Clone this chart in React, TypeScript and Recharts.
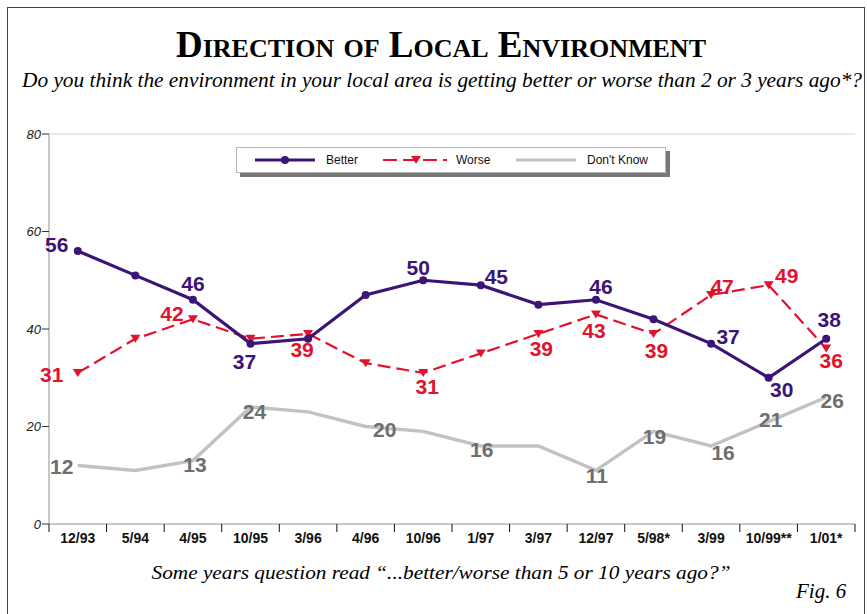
import React from "react";
import { LineChart, Line, XAxis, YAxis, CartesianGrid, Legend } from "recharts";

const periods = [
  "12/93", "5/94", "4/95", "10/95", "3/96", "4/96", "10/96",
  "1/97", "3/97", "12/97", "5/98*", "3/99", "10/99**", "1/01*",
];
const better = [56, 51, 46, 37, 38, 47, 50, 49, 45, 46, 42, 37, 30, 38];
const worse = [31, 38, 42, 38, 39, 33, 31, 35, 39, 43, 39, 47, 49, 36];
const dontKnow = [12, 11, 13, 24, 23, 20, 19, 16, 16, 11, 19, 16, 21, 26];
const yTicks = [0, 20, 40, 60, 80];

const W = 867;
const H = 614;
const PLOT_LEFT = 49;
const PLOT_RIGHT = 12;
const BAND = (W - PLOT_LEFT - PLOT_RIGHT) / periods.length;

const PURPLE = "#3b1476";
const RED = "#e2122e";
const GRAY_LINE = "#c2c2c2";
const GRAY_TEXT = "#6e6e6e";

const sans = "'Liberation Sans', Arial, sans-serif";
const serif = "'Liberation Serif', 'Times New Roman', serif";

// value label offsets (dx, dy) from the point; points without an entry get no label
const betterLabelAt: Record<number, [number, number]> = {
  0: [-21, -7], 2: [0, -16], 3: [-6, 18], 6: [-5, -13], 8: [-42, -28],
  9: [5, -13], 11: [17, -7], 12: [13, 12], 13: [3, -19],
};
const worseLabelAt: Record<number, [number, number]> = {
  0: [-26, 2], 2: [-21, -6], 4: [-6, 16], 6: [4, 14], 8: [3, 15],
  9: [-2, 16], 10: [3, 17], 11: [11, -8], 12: [18, -10], 13: [5, 12],
};
const dkLabelAt: Record<number, [number, number]> = {
  0: [-16, 1], 2: [2, 4], 3: [4, 4], 5: [19, 3], 7: [1, 3], 9: [1, 5],
  10: [1, 5], 11: [12, 6], 12: [2, -2], 13: [6, 3],
};

const data = periods.map((period, i) => ({
  period,
  better: better[i],
  worse: worse[i],
  dontKnow: dontKnow[i],
}));

const valueLabel = (
  cx: number, cy: number, value: number,
  pos: [number, number] | undefined, color: string,
) =>
  pos ? (
    <text
      x={cx + pos[0]}
      y={cy + pos[1]}
      textAnchor="middle"
      dominantBaseline="central"
      fontFamily={sans}
      fontWeight="bold"
      fontSize={21}
      fill={color}
    >
      {value}
    </text>
  ) : null;

const BetterDot = (p: any) => (
  <g key={`b-${p.index}`}>
    <circle cx={p.cx} cy={p.cy} r={4} fill={PURPLE} />
    {valueLabel(p.cx, p.cy, better[p.index], betterLabelAt[p.index], PURPLE)}
  </g>
);

const WorseDot = (p: any) => (
  <g key={`w-${p.index}`}>
    <path
      d={`M${p.cx - 5},${p.cy - 4} L${p.cx + 5},${p.cy - 4} L${p.cx},${p.cy + 4} Z`}
      fill={RED}
    />
    {valueLabel(p.cx, p.cy, worse[p.index], worseLabelAt[p.index], RED)}
  </g>
);

const DkDot = (p: any) => (
  <g key={`d-${p.index}`}>
    {valueLabel(p.cx, p.cy, dontKnow[p.index], dkLabelAt[p.index], GRAY_TEXT)}
  </g>
);

// period labels sit between tick marks drawn at the band edges
const PeriodTick = (p: any) => {
  const { x, y, payload, index } = p;
  const half = BAND / 2;
  return (
    <g>
      <line x1={x - half} x2={x - half} y1={y} y2={y + 8} stroke="#111" />
      {index === periods.length - 1 && (
        <line x1={x + half} x2={x + half} y1={y} y2={y + 8} stroke="#111" />
      )}
      <text
        x={x}
        y={y + 19}
        textAnchor="middle"
        fontFamily={sans}
        fontWeight="bold"
        fontSize={14}
        fill="#111"
      >
        {payload.value}
      </text>
    </g>
  );
};

const legendItems = [
  { name: "Better", kind: "better", left: 16 },
  { name: "Worse", kind: "worse", left: 146 },
  { name: "Don't Know", kind: "dk", left: 277 },
];

const Swatch = ({ kind }: { kind: string }) => (
  <svg width={64} height={10} style={{ display: "block" }}>
    {kind === "better" && (
      <>
        <line x1={2} x2={62} y1={5} y2={5} stroke={PURPLE} strokeWidth={3} />
        <circle cx={32} cy={5} r={4} fill={PURPLE} />
      </>
    )}
    {kind === "worse" && (
      <>
        <line x1={0} x2={64} y1={5} y2={5} stroke={RED} strokeWidth={2} strokeDasharray="14 6" />
        <path d="M28,1 L38,1 L33,9 Z" fill={RED} />
      </>
    )}
    {kind === "dk" && <line x1={2} x2={62} y1={5} y2={5} stroke={GRAY_LINE} strokeWidth={3} />}
  </svg>
);

const LegendBox = () => (
  <div
    style={{
      position: "relative",
      width: 430,
      height: 26,
      boxSizing: "border-box",
      border: "1px solid #b5b5b5",
      background: "#fff",
      boxShadow: "4px 4px 0 #777",
      fontFamily: sans,
      fontSize: 12,
      color: "#111",
    }}
  >
    {legendItems.map((it) => (
      <div
        key={it.name}
        style={{
          position: "absolute",
          left: it.left,
          top: 0,
          height: 24,
          display: "flex",
          alignItems: "center",
        }}
      >
        <Swatch kind={it.kind} />
        <span style={{ marginLeft: 9 }}>{it.name}</span>
      </div>
    ))}
  </div>
);

export default function App() {
  return (
    <div style={{ position: "absolute", left: 0, top: 0, width: W, height: H, background: "#fff" }}>
      <svg width={W} height={H} style={{ position: "absolute", left: 0, top: 0 }}>
        <rect x={7.5} y={7.5} width={857} height={640} fill="none" stroke="#444" />
        <text
          x={441}
          y={57}
          textAnchor="middle"
          fontFamily={serif}
          fontWeight="bold"
          fontSize={37}
          style={{ fontVariant: "small-caps" }}
          textLength={530}
          lengthAdjust="spacingAndGlyphs"
          fill="#000"
        >
          Direction of Local Environment
        </text>
        <text
          x={442}
          y={87}
          textAnchor="middle"
          fontFamily={serif}
          fontStyle="italic"
          fontSize={20}
          textLength={840}
          lengthAdjust="spacingAndGlyphs"
          fill="#000"
        >
          Do you think the environment in your local area is getting better or worse than 2 or 3 years ago*?
        </text>
        <text
          x={441}
          y={579}
          textAnchor="middle"
          fontFamily={serif}
          fontStyle="italic"
          fontSize={19}
          textLength={579}
          lengthAdjust="spacingAndGlyphs"
          fill="#000"
        >
          Some years question read “...better/worse than 5 or 10 years ago?”
        </text>
        <text x={796} y={598} fontFamily={serif} fontStyle="italic" fontSize={21} fill="#000">
          Fig. 6
        </text>
      </svg>
      <div style={{ position: "absolute", left: 0, top: 0 }}>
        <LineChart
          width={W}
          height={H}
          data={data}
          margin={{ top: 134, right: PLOT_RIGHT, bottom: 60, left: 8 }}
        >
          <CartesianGrid vertical={false} stroke="#e2e2e2" strokeWidth={1.5} />
          <XAxis
            dataKey="period"
            height={30}
            padding={{ left: BAND / 2, right: BAND / 2 }}
            axisLine={{ stroke: "#c8c8c8", strokeWidth: 2 }}
            tickLine={false}
            tickSize={0}
            tickMargin={0}
            interval={0}
            tick={<PeriodTick />}
          />
          <YAxis
            yAxisId="left"
            width={41}
            domain={[0, 80]}
            ticks={yTicks}
            axisLine={{ stroke: "#c8c8c8", strokeWidth: 2 }}
            tickLine={{ stroke: "#333" }}
            tickSize={7}
            tickMargin={1}
            tick={{ fontFamily: sans, fontStyle: "italic", fontSize: 13, fill: "#222" }}
          />
          <YAxis
            yAxisId="right"
            orientation="right"
            width={0}
            domain={[0, 80]}
            tick={false}
            tickLine={false}
            axisLine={{ stroke: "#c8c8c8", strokeWidth: 2 }}
          />
          <Legend
            layout="horizontal"
            align="center"
            verticalAlign="middle"
            wrapperStyle={{ left: 236, top: 147, width: 430, height: 26 }}
            content={() => <LegendBox />}
          />
          <Line
            yAxisId="left"
            dataKey="dontKnow"
            stroke={GRAY_LINE}
            strokeWidth={3.5}
            dot={DkDot}
            activeDot={false}
            isAnimationActive={false}
          />
          <Line
            yAxisId="left"
            dataKey="worse"
            stroke={RED}
            strokeWidth={2.2}
            strokeDasharray="13 6"
            dot={WorseDot}
            activeDot={false}
            isAnimationActive={false}
          />
          <Line
            yAxisId="left"
            dataKey="better"
            stroke={PURPLE}
            strokeWidth={3.2}
            dot={BetterDot}
            activeDot={false}
            isAnimationActive={false}
          />
        </LineChart>
      </div>
    </div>
  );
}
